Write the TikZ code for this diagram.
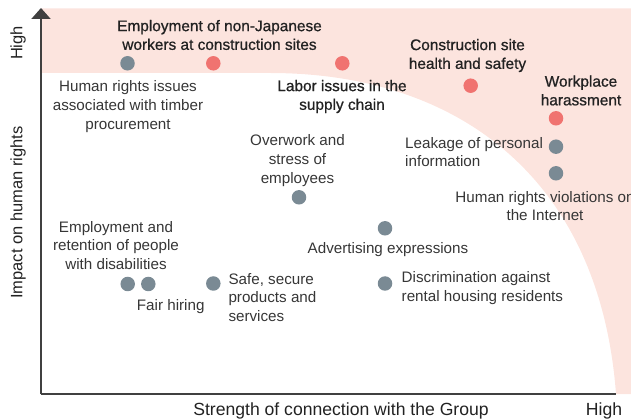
\documentclass[tikz,border=0pt]{standalone}
\usepackage{fontspec}
\setmainfont{Liberation Sans}
\newfontfamily\medfont[FakeBold=0.8]{Liberation Sans}
\usetikzlibrary{arrows.meta}
\definecolor{pinkbg}{HTML}{FCE4DE}
\definecolor{dotred}{HTML}{F07370}
\definecolor{dotgray}{HTML}{7A8A94}
\definecolor{txtgray}{HTML}{363636}
\definecolor{txtdark}{HTML}{222222}
\definecolor{axisgray}{HTML}{404040}
\tikzset{
  dotg/.style={circle,fill=dotgray,minimum size=14.5pt,inner sep=0pt},
  dotr/.style={circle,fill=dotred,minimum size=14.5pt,inner sep=0pt},
  lbl/.style={font=\fontsize{15.2}{18.7}\selectfont,text=txtgray,align=center,inner sep=0pt},
  lbll/.style={lbl,align=left,anchor=west},
  blbl/.style={font=\medfont\fontsize{15.4}{18.7}\selectfont,text=txtdark,align=center,inner sep=0pt},
  axlbl/.style={font=\fontsize{16.5}{19}\selectfont,text=txtdark,inner sep=0pt},
  axlblx/.style={font=\fontsize{17.6}{20}\selectfont,text=txtdark,inner sep=0pt},
  axisline/.style={line width=2pt,draw=axisgray}
}
\begin{document}
\begin{tikzpicture}[x=1pt,y=-1pt]
\useasboundingbox (0,0) rectangle (631,419);
% pink zone
\fill[pinkbg] (41,8.5) -- (631,8.5) -- (631,394) -- (616,394)
  .. controls (600,180) and (460,73) .. (270,73) -- (41,73) -- cycle;
% axes
\coordinate (origin) at (41,394);
\coordinate (ytop) at (41,8);
\coordinate (xend) at (616,394);
\draw[axisline,-{Triangle[width=19pt,length=11pt]}] (origin) -- (ytop);
\draw[axisline] (origin) -- (xend);
% axis labels
\node[axlbl,rotate=90] (yhigh) at (18,43) {High};
\node[axlbl,rotate=90] (ylab) at (18,212.5) {Impact on human rights};
\node[axlblx] (xlab) at (341,411) {Strength of connection with the Group};
\node[axlblx] (xhigh) at (604,411) {High};
% dots
\node[dotg] (timber) at (127.5,63.3) {};
\node[dotr] (nonjp) at (213.3,63.3) {};
\node[dotr] (labor) at (342.3,63.3) {};
\node[dotr] (cons) at (470.7,85.7) {};
\node[dotr] (work) at (556,118.3) {};
\node[dotg] (leak) at (556,146.7) {};
\node[dotg] (inet) at (556,173.3) {};
\node[dotg] (over) at (299,197.3) {};
\node[dotg] (adv) at (385,228.3) {};
\node[dotg] (disab) at (127.7,284) {};
\node[dotg] (fair) at (148.3,284) {};
\node[dotg] (safe) at (213.3,283.5) {};
\node[dotg] (disc) at (385,283.5) {};
% labels
\node[blbl] (nonjpl) at (219.5,35) {Employment of non-Japanese\\workers at construction sites};
\node[lbl] (timberl) at (128,106.5) {Human rights issues\\associated with timber\\procurement};
\node[blbl] (laborl) at (342,96.5) {Labor issues in the\\supply chain};
\node[blbl] (consl) at (467.5,55.5) {Construction site\\health and safety};
\node[blbl] (workl) at (581,90.5) {Workplace\\harassment};
\node[lbll] (leakl) at (405,152) {Leakage of personal\\information};
\node[lbl] (inetl) at (545,206) {Human rights violations on\\the Internet};
\node[lbl] (overl) at (297.5,160.5) {Overwork and\\stress of\\employees};
\node[lbl] (advl) at (388,250) {Advertising expressions};
\node[lbll] (discl) at (401.5,288) {Discrimination against\\rental housing residents};
\node[lbl] (disabl) at (116,245.5) {Employment and\\retention of people\\with disabilities};
\node[lbl] (fairl) at (170.7,306.5) {Fair hiring};
\node[lbll] (safel) at (228.3,297.5) {Safe, secure\\products and\\services};
\end{tikzpicture}
\end{document}
